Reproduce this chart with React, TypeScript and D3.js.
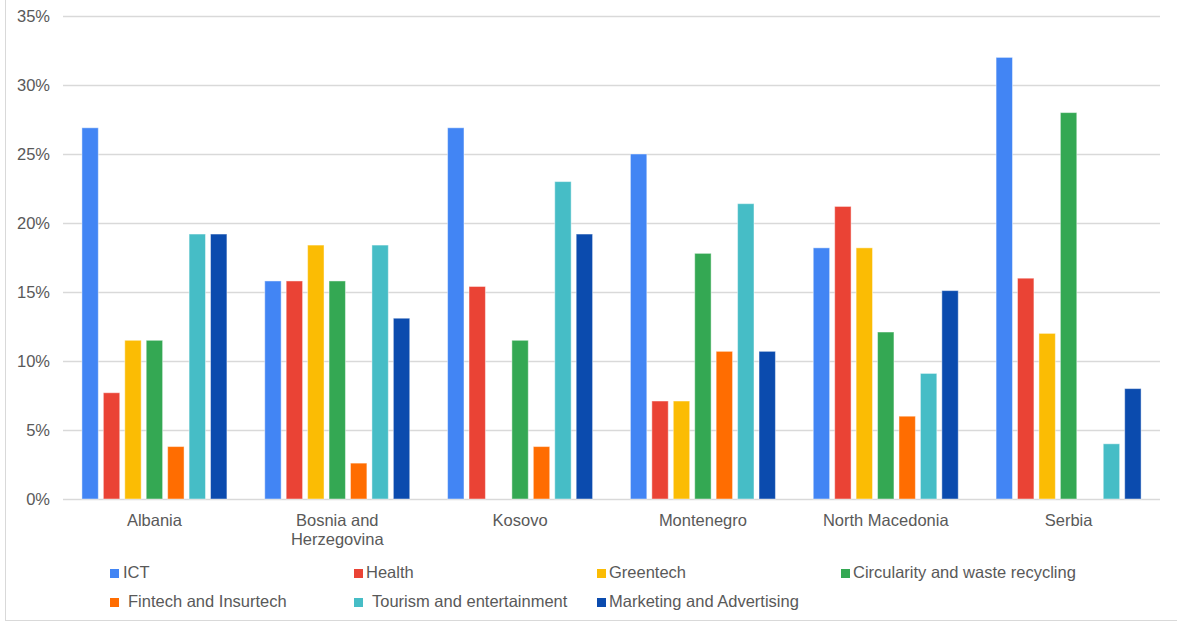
import React from "react";
import * as d3 from "d3";

const categories = ["Albania", "Bosnia and Herzegovina", "Kosovo", "Montenegro", "North Macedonia", "Serbia"];
const categoryLines = [["Albania"], ["Bosnia and", "Herzegovina"], ["Kosovo"], ["Montenegro"], ["North Macedonia"], ["Serbia"]];

const seriesNames = [
  "ICT",
  "Health",
  "Greentech",
  "Circularity and waste recycling",
  "Fintech and Insurtech",
  "Tourism and entertainment",
  "Marketing and Advertising",
];
const seriesColors = ["#4285F4", "#EA4335", "#FBBC04", "#34A853", "#FF6D01", "#46BDC6", "#0B4BAE"];

// values per series, one entry per country (percent)
const ict = [26.9, 15.8, 26.9, 25.0, 18.2, 32.0];
const health = [7.7, 15.8, 15.4, 7.1, 21.2, 16.0];
const greentech = [11.5, 18.4, 0, 7.1, 18.2, 12.0];
const circularity = [11.5, 15.8, 11.5, 17.8, 12.1, 28.0];
const fintech = [3.8, 2.6, 3.8, 10.7, 6.0, 0];
const tourism = [19.2, 18.4, 23.0, 21.4, 9.1, 4.0];
const marketing = [19.2, 13.1, 19.2, 10.7, 15.1, 8.0];
const seriesValues = [ict, health, greentech, circularity, fintech, tourism, marketing];

const yTicks = [0, 5, 10, 15, 20, 25, 30, 35];

const W = 1177;
const H = 622;
const plotLeft = 63;
const plotRight = 1160;
const plotTop = 16;
const plotBottom = 499;
const groupWidth = 145;

const legendItems = [
  { s: 0, x: 110, textX: 123, y: 578 },
  { s: 1, x: 354, textX: 366, y: 578 },
  { s: 2, x: 597, textX: 609, y: 578 },
  { s: 3, x: 841, textX: 853, y: 578 },
  { s: 4, x: 110, textX: 128, y: 607 },
  { s: 5, x: 354, textX: 372, y: 607 },
  { s: 6, x: 597, textX: 609, y: 607 },
];

export default function App() {
  const y = d3.scaleLinear().domain([0, 35]).range([plotBottom, plotTop]);
  const x0 = d3.scaleBand<string>().domain(categories).range([plotLeft, plotRight]).padding(0);
  const x1 = d3
    .scaleBand<string>()
    .domain(seriesNames)
    .range([0, groupWidth])
    .paddingInner(0.235)
    .paddingOuter(0);
  const font = "'Liberation Sans', Arial, sans-serif";
  const textColor = "#595959";

  return (
    <svg
      width={W}
      height={H}
      style={{ position: "absolute", left: 0, top: 0, background: "#fff" }}
      fontFamily={font}
    >
      <rect x={0} y={0} width={W} height={H} fill="#fff" />
      {/* frame edges */}
      <line x1={5.5} x2={5.5} y1={0} y2={621} stroke="#d9d9d9" />
      <line x1={5} x2={W} y1={620.5} y2={620.5} stroke="#d9d9d9" />

      {/* gridlines and y labels */}
      {yTicks.map((t) => (
        <g key={t}>
          <line
            x1={plotLeft}
            x2={plotRight}
            y1={Math.round(y(t)) + 0.5}
            y2={Math.round(y(t)) + 0.5}
            stroke="#d9d9d9"
            strokeWidth={1.3}
          />
          <text
            x={50}
            y={y(t)}
            dy="0.36em"
            textAnchor="end"
            fontSize={16.5}
            fill={textColor}
          >
            {t}%
          </text>
        </g>
      ))}

      {/* bars */}
      {categories.map((c, ci) => {
        const gx = (x0(c) as number) + x0.bandwidth() / 2 - groupWidth / 2;
        return (
          <g key={c}>
            {seriesNames.map((s, si) => {
              const v = seriesValues[si][ci];
              if (!v) return null;
              return (
                <rect
                  key={s}
                  x={gx + (x1(s) as number)}
                  y={y(v)}
                  width={x1.bandwidth()}
                  height={y(0) - y(v)}
                  fill={seriesColors[si]}
                  stroke="#ffffff"
                  strokeOpacity={0.45}
                  strokeWidth={1}
                />
              );
            })}
          </g>
        );
      })}

      {/* category labels */}
      {categories.map((c, ci) => (
        <text
          key={c}
          x={(x0(c) as number) + x0.bandwidth() / 2}
          y={526}
          textAnchor="middle"
          fontSize={16.5}
          fill={textColor}
        >
          {categoryLines[ci].map((line, li) => (
            <tspan key={li} x={(x0(c) as number) + x0.bandwidth() / 2} dy={li === 0 ? 0 : 19}>
              {line}
            </tspan>
          ))}
        </text>
      ))}

      {/* legend */}
      {legendItems.map((it) => (
        <g key={it.s}>
          <rect x={it.x} y={it.y - 9} width={9} height={9} fill={seriesColors[it.s]} />
          <text x={it.textX} y={it.y} fontSize={16.5} fill={textColor}>
            {seriesNames[it.s]}
          </text>
        </g>
      ))}
    </svg>
  );
}
